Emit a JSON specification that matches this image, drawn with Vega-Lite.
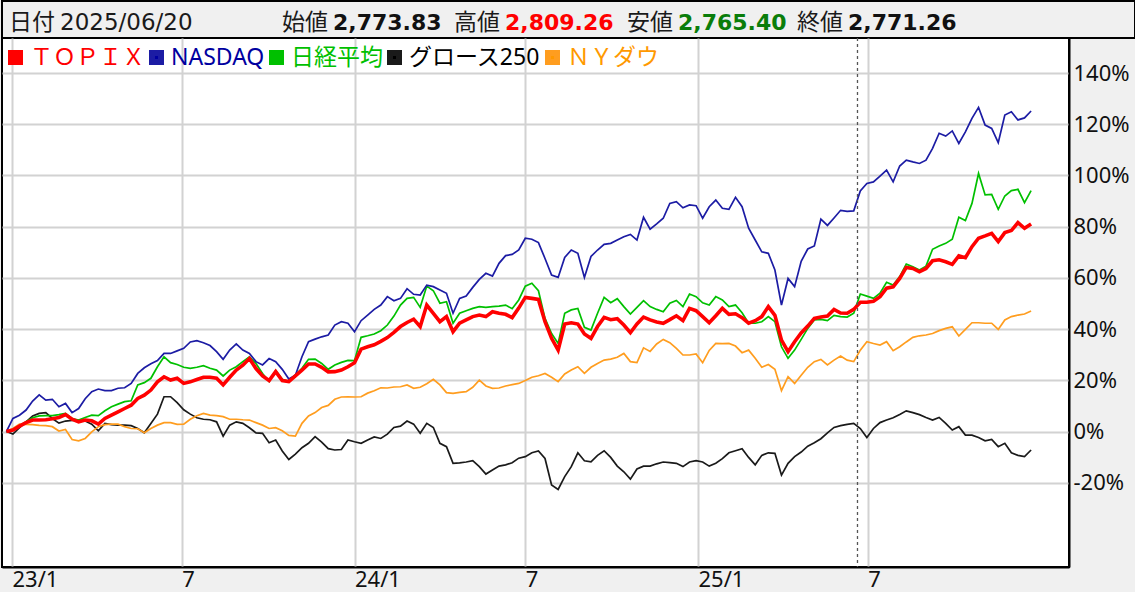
{
"$schema":"https://vega.github.io/schema/vega-lite/v6.json",
"background":"#f0f0f0",
"padding":{"left":-2,"top":0,"right":0,"bottom":0},
"spacing":0,
"bounds":"flush",
"config":{"view":{"stroke":null},"font":"Noto Sans, Noto Sans CJK JP","axis":{"ticks":false,"title":null}},
"datasets":{
"topix":[{"date":"2022-12-26","pct":0},{"date":"2023-01-02","pct":0.6},{"date":"2023-01-09","pct":2.1},{"date":"2023-01-16","pct":3.5},{"date":"2023-01-23","pct":4.5},{"date":"2023-01-30","pct":4.5},{"date":"2023-02-06","pct":4.6},{"date":"2023-02-13","pct":5},{"date":"2023-02-20","pct":5.5},{"date":"2023-02-27","pct":6.6},{"date":"2023-03-06","pct":4.8},{"date":"2023-03-13","pct":3.8},{"date":"2023-03-20","pct":4.5},{"date":"2023-03-27","pct":4.2},{"date":"2023-04-03","pct":2.9},{"date":"2023-04-10","pct":5.1},{"date":"2023-04-17","pct":6.4},{"date":"2023-04-24","pct":7.7},{"date":"2023-05-01","pct":9},{"date":"2023-05-08","pct":10.3},{"date":"2023-05-15","pct":12.9},{"date":"2023-05-22","pct":14.2},{"date":"2023-05-29","pct":16.2},{"date":"2023-06-05","pct":19.4},{"date":"2023-06-12","pct":21.4},{"date":"2023-06-19","pct":20.1},{"date":"2023-06-26","pct":20.8},{"date":"2023-07-03","pct":18.8},{"date":"2023-07-10","pct":19.4},{"date":"2023-07-17","pct":20.3},{"date":"2023-07-24","pct":21.2},{"date":"2023-07-31","pct":21.2},{"date":"2023-08-07","pct":20.8},{"date":"2023-08-14","pct":18.2},{"date":"2023-08-21","pct":21.2},{"date":"2023-08-28","pct":24},{"date":"2023-09-04","pct":25.9},{"date":"2023-09-11","pct":28.5},{"date":"2023-09-18","pct":24.6},{"date":"2023-09-25","pct":21.7},{"date":"2023-10-02","pct":19.9},{"date":"2023-10-09","pct":23.4},{"date":"2023-10-16","pct":19.9},{"date":"2023-10-23","pct":19.5},{"date":"2023-10-30","pct":21.7},{"date":"2023-11-06","pct":24},{"date":"2023-11-13","pct":26.4},{"date":"2023-11-20","pct":26.4},{"date":"2023-11-27","pct":25.1},{"date":"2023-12-04","pct":23.3},{"date":"2023-12-11","pct":23.4},{"date":"2023-12-18","pct":24},{"date":"2023-12-25","pct":25.3},{"date":"2024-01-01","pct":26.9},{"date":"2024-01-08","pct":32.2},{"date":"2024-01-15","pct":33.1},{"date":"2024-01-22","pct":33.9},{"date":"2024-01-29","pct":35.2},{"date":"2024-02-05","pct":36.7},{"date":"2024-02-12","pct":38.7},{"date":"2024-02-19","pct":41},{"date":"2024-02-26","pct":42.6},{"date":"2024-03-04","pct":43.9},{"date":"2024-03-11","pct":41},{"date":"2024-03-18","pct":49.4},{"date":"2024-03-25","pct":46.2},{"date":"2024-04-01","pct":42.9},{"date":"2024-04-08","pct":44.9},{"date":"2024-04-15","pct":39},{"date":"2024-04-22","pct":42.3},{"date":"2024-04-29","pct":43.6},{"date":"2024-05-06","pct":44.9},{"date":"2024-05-13","pct":45.5},{"date":"2024-05-20","pct":44.9},{"date":"2024-05-27","pct":46.8},{"date":"2024-06-03","pct":46.2},{"date":"2024-06-10","pct":45.8},{"date":"2024-06-17","pct":44.5},{"date":"2024-06-24","pct":48.2},{"date":"2024-07-01","pct":52.4},{"date":"2024-07-08","pct":52},{"date":"2024-07-15","pct":51.6},{"date":"2024-07-22","pct":42.9},{"date":"2024-07-29","pct":36.4},{"date":"2024-08-05","pct":31.8},{"date":"2024-08-12","pct":42},{"date":"2024-08-19","pct":42.5},{"date":"2024-08-26","pct":42},{"date":"2024-09-02","pct":38.1},{"date":"2024-09-09","pct":36.4},{"date":"2024-09-16","pct":41},{"date":"2024-09-23","pct":44.6},{"date":"2024-09-30","pct":43.7},{"date":"2024-10-07","pct":44.1},{"date":"2024-10-14","pct":41.6},{"date":"2024-10-21","pct":38.6},{"date":"2024-10-28","pct":42},{"date":"2024-11-04","pct":44.7},{"date":"2024-11-11","pct":43.6},{"date":"2024-11-18","pct":42.8},{"date":"2024-11-25","pct":42.3},{"date":"2024-12-02","pct":43.7},{"date":"2024-12-09","pct":45.2},{"date":"2024-12-16","pct":43.3},{"date":"2024-12-23","pct":48.1},{"date":"2024-12-30","pct":47.2},{"date":"2025-01-06","pct":44.9},{"date":"2025-01-13","pct":42.5},{"date":"2025-01-20","pct":45.2},{"date":"2025-01-27","pct":48.1},{"date":"2025-02-03","pct":45.8},{"date":"2025-02-10","pct":46},{"date":"2025-02-17","pct":44.5},{"date":"2025-02-24","pct":42.3},{"date":"2025-03-03","pct":43.3},{"date":"2025-03-10","pct":44.9},{"date":"2025-03-17","pct":48.8},{"date":"2025-03-24","pct":45.4},{"date":"2025-03-31","pct":35.7},{"date":"2025-04-07","pct":31.2},{"date":"2025-04-14","pct":35.1},{"date":"2025-04-21","pct":38.5},{"date":"2025-04-28","pct":41.2},{"date":"2025-05-05","pct":44.2},{"date":"2025-05-12","pct":44.7},{"date":"2025-05-19","pct":45.1},{"date":"2025-05-26","pct":47.7},{"date":"2025-06-02","pct":46.3},{"date":"2025-06-09","pct":46.2},{"date":"2025-06-16","pct":47.7},{"date":"2025-06-23","pct":50.5},{"date":"2025-06-30","pct":50.5},{"date":"2025-07-07","pct":50.9},{"date":"2025-07-14","pct":52.7},{"date":"2025-07-21","pct":56},{"date":"2025-07-28","pct":56.5},{"date":"2025-08-04","pct":59.8},{"date":"2025-08-11","pct":64.1},{"date":"2025-08-18","pct":63.7},{"date":"2025-08-25","pct":62.4},{"date":"2025-09-01","pct":63.7},{"date":"2025-09-08","pct":66.7},{"date":"2025-09-15","pct":67.1},{"date":"2025-09-22","pct":66.3},{"date":"2025-09-29","pct":65.3},{"date":"2025-10-06","pct":68.6},{"date":"2025-10-13","pct":67.9},{"date":"2025-10-20","pct":72.2},{"date":"2025-10-27","pct":75.5},{"date":"2025-11-03","pct":76.4},{"date":"2025-11-10","pct":77.4},{"date":"2025-11-17","pct":74.2},{"date":"2025-11-24","pct":77.7},{"date":"2025-12-01","pct":78.5},{"date":"2025-12-08","pct":81.6},{"date":"2025-12-15","pct":79.4},{"date":"2025-12-22","pct":81.1}],
"nasdaq":[{"date":"2022-12-26","pct":0},{"date":"2023-01-02","pct":5.1},{"date":"2023-01-09","pct":6.4},{"date":"2023-01-16","pct":8.4},{"date":"2023-01-23","pct":11.9},{"date":"2023-01-30","pct":14.3},{"date":"2023-02-06","pct":12.3},{"date":"2023-02-13","pct":12.6},{"date":"2023-02-20","pct":9.7},{"date":"2023-02-27","pct":11},{"date":"2023-03-06","pct":7.4},{"date":"2023-03-13","pct":9},{"date":"2023-03-20","pct":12.8},{"date":"2023-03-27","pct":15.6},{"date":"2023-04-03","pct":16.6},{"date":"2023-04-10","pct":16},{"date":"2023-04-17","pct":16},{"date":"2023-04-24","pct":16.9},{"date":"2023-05-01","pct":17.1},{"date":"2023-05-08","pct":18.8},{"date":"2023-05-15","pct":22.7},{"date":"2023-05-22","pct":24.9},{"date":"2023-05-29","pct":26.5},{"date":"2023-06-05","pct":27.7},{"date":"2023-06-12","pct":30.5},{"date":"2023-06-19","pct":30.5},{"date":"2023-06-26","pct":31.5},{"date":"2023-07-03","pct":32.5},{"date":"2023-07-10","pct":35},{"date":"2023-07-17","pct":35.5},{"date":"2023-07-24","pct":34.7},{"date":"2023-07-31","pct":33.6},{"date":"2023-08-07","pct":31.2},{"date":"2023-08-14","pct":28.2},{"date":"2023-08-21","pct":31.8},{"date":"2023-08-28","pct":34.2},{"date":"2023-09-04","pct":31.8},{"date":"2023-09-11","pct":30.5},{"date":"2023-09-18","pct":27.3},{"date":"2023-09-25","pct":26},{"date":"2023-10-02","pct":28.5},{"date":"2023-10-09","pct":27.3},{"date":"2023-10-16","pct":24.3},{"date":"2023-10-23","pct":20.5},{"date":"2023-10-30","pct":22},{"date":"2023-11-06","pct":29.2},{"date":"2023-11-13","pct":35.1},{"date":"2023-11-20","pct":36.1},{"date":"2023-11-27","pct":37},{"date":"2023-12-04","pct":37.7},{"date":"2023-12-11","pct":41.6},{"date":"2023-12-18","pct":42.9},{"date":"2023-12-25","pct":42.3},{"date":"2024-01-01","pct":39},{"date":"2024-01-08","pct":43.3},{"date":"2024-01-15","pct":45.5},{"date":"2024-01-22","pct":47.7},{"date":"2024-01-29","pct":49.4},{"date":"2024-02-05","pct":52.7},{"date":"2024-02-12","pct":51.1},{"date":"2024-02-19","pct":52},{"date":"2024-02-26","pct":55.8},{"date":"2024-03-04","pct":53.6},{"date":"2024-03-11","pct":53.3},{"date":"2024-03-18","pct":57.2},{"date":"2024-03-25","pct":56.6},{"date":"2024-04-01","pct":55.3},{"date":"2024-04-08","pct":54},{"date":"2024-04-15","pct":46.2},{"date":"2024-04-22","pct":52},{"date":"2024-04-29","pct":52.9},{"date":"2024-05-06","pct":56.3},{"date":"2024-05-13","pct":59.4},{"date":"2024-05-20","pct":61.8},{"date":"2024-05-27","pct":60.7},{"date":"2024-06-03","pct":65.7},{"date":"2024-06-10","pct":68.7},{"date":"2024-06-17","pct":69.2},{"date":"2024-06-24","pct":70.9},{"date":"2024-07-01","pct":75.5},{"date":"2024-07-08","pct":75.1},{"date":"2024-07-15","pct":73.8},{"date":"2024-07-22","pct":67.6},{"date":"2024-07-29","pct":61.1},{"date":"2024-08-05","pct":60.2},{"date":"2024-08-12","pct":68},{"date":"2024-08-19","pct":70.9},{"date":"2024-08-26","pct":69.6},{"date":"2024-09-02","pct":60.2},{"date":"2024-09-09","pct":68.4},{"date":"2024-09-16","pct":70.9},{"date":"2024-09-23","pct":73.1},{"date":"2024-09-30","pct":73.5},{"date":"2024-10-07","pct":74.8},{"date":"2024-10-14","pct":76.1},{"date":"2024-10-21","pct":77},{"date":"2024-10-28","pct":74.8},{"date":"2024-11-04","pct":83.7},{"date":"2024-11-11","pct":79},{"date":"2024-11-18","pct":81.1},{"date":"2024-11-25","pct":83.3},{"date":"2024-12-02","pct":89.1},{"date":"2024-12-09","pct":89.8},{"date":"2024-12-16","pct":87.4},{"date":"2024-12-23","pct":88.5},{"date":"2024-12-30","pct":88.2},{"date":"2025-01-06","pct":83.3},{"date":"2025-01-13","pct":87.8},{"date":"2025-01-20","pct":90.4},{"date":"2025-01-27","pct":87.2},{"date":"2025-02-03","pct":86.8},{"date":"2025-02-10","pct":91.5},{"date":"2025-02-17","pct":87.8},{"date":"2025-02-24","pct":79.4},{"date":"2025-03-03","pct":74.8},{"date":"2025-03-10","pct":70.2},{"date":"2025-03-17","pct":69.6},{"date":"2025-03-24","pct":63.1},{"date":"2025-03-31","pct":49.4},{"date":"2025-04-07","pct":59.8},{"date":"2025-04-14","pct":56.6},{"date":"2025-04-21","pct":66.5},{"date":"2025-04-28","pct":71.3},{"date":"2025-05-05","pct":72.5},{"date":"2025-05-12","pct":83},{"date":"2025-05-19","pct":80.5},{"date":"2025-05-26","pct":83.4},{"date":"2025-06-02","pct":86.4},{"date":"2025-06-09","pct":86},{"date":"2025-06-16","pct":86.2},{"date":"2025-06-23","pct":94},{"date":"2025-06-30","pct":96.9},{"date":"2025-07-07","pct":97.5},{"date":"2025-07-14","pct":99.8},{"date":"2025-07-21","pct":102.1},{"date":"2025-07-28","pct":97.5},{"date":"2025-08-04","pct":103.7},{"date":"2025-08-11","pct":106},{"date":"2025-08-18","pct":105.3},{"date":"2025-08-25","pct":104.7},{"date":"2025-09-01","pct":106},{"date":"2025-09-08","pct":110.6},{"date":"2025-09-15","pct":116.5},{"date":"2025-09-22","pct":115.4},{"date":"2025-09-29","pct":117.4},{"date":"2025-10-06","pct":112.5},{"date":"2025-10-13","pct":117},{"date":"2025-10-20","pct":122.3},{"date":"2025-10-27","pct":126.6},{"date":"2025-11-03","pct":119.7},{"date":"2025-11-10","pct":118.4},{"date":"2025-11-17","pct":112.8},{"date":"2025-11-24","pct":123.6},{"date":"2025-12-01","pct":124.9},{"date":"2025-12-08","pct":121.7},{"date":"2025-12-15","pct":122.5},{"date":"2025-12-22","pct":125.2}],
"nikkei":[{"date":"2022-12-26","pct":0},{"date":"2023-01-02","pct":0.8},{"date":"2023-01-09","pct":2.3},{"date":"2023-01-16","pct":3.8},{"date":"2023-01-23","pct":5.4},{"date":"2023-01-30","pct":6.1},{"date":"2023-02-06","pct":6.2},{"date":"2023-02-13","pct":6.2},{"date":"2023-02-20","pct":6.6},{"date":"2023-02-27","pct":7.1},{"date":"2023-03-06","pct":5.1},{"date":"2023-03-13","pct":4.5},{"date":"2023-03-20","pct":5.5},{"date":"2023-03-27","pct":6.4},{"date":"2023-04-03","pct":6.2},{"date":"2023-04-10","pct":8.1},{"date":"2023-04-17","pct":9.7},{"date":"2023-04-24","pct":10.7},{"date":"2023-05-01","pct":11.7},{"date":"2023-05-08","pct":12},{"date":"2023-05-15","pct":18.2},{"date":"2023-05-22","pct":19.1},{"date":"2023-05-29","pct":20.8},{"date":"2023-06-05","pct":25.3},{"date":"2023-06-12","pct":29.2},{"date":"2023-06-19","pct":26.9},{"date":"2023-06-26","pct":26.2},{"date":"2023-07-03","pct":25.1},{"date":"2023-07-10","pct":24.7},{"date":"2023-07-17","pct":25.1},{"date":"2023-07-24","pct":25.7},{"date":"2023-07-31","pct":24.7},{"date":"2023-08-07","pct":24},{"date":"2023-08-14","pct":21.7},{"date":"2023-08-21","pct":24},{"date":"2023-08-28","pct":25.3},{"date":"2023-09-04","pct":27.3},{"date":"2023-09-11","pct":29.2},{"date":"2023-09-18","pct":26.6},{"date":"2023-09-25","pct":22.7},{"date":"2023-10-02","pct":19.5},{"date":"2023-10-09","pct":23.8},{"date":"2023-10-16","pct":20.4},{"date":"2023-10-23","pct":19.5},{"date":"2023-10-30","pct":22.1},{"date":"2023-11-06","pct":24.7},{"date":"2023-11-13","pct":28.2},{"date":"2023-11-20","pct":28.3},{"date":"2023-11-27","pct":26.6},{"date":"2023-12-04","pct":24.3},{"date":"2023-12-11","pct":26},{"date":"2023-12-18","pct":27},{"date":"2023-12-25","pct":27.8},{"date":"2024-01-01","pct":27.7},{"date":"2024-01-08","pct":36.8},{"date":"2024-01-15","pct":37.4},{"date":"2024-01-22","pct":38.1},{"date":"2024-01-29","pct":39.4},{"date":"2024-02-05","pct":41.6},{"date":"2024-02-12","pct":45.1},{"date":"2024-02-19","pct":49.4},{"date":"2024-02-26","pct":52},{"date":"2024-03-04","pct":52.4},{"date":"2024-03-11","pct":48.5},{"date":"2024-03-18","pct":56.8},{"date":"2024-03-25","pct":55},{"date":"2024-04-01","pct":50.1},{"date":"2024-04-08","pct":50.7},{"date":"2024-04-15","pct":42.3},{"date":"2024-04-22","pct":46.2},{"date":"2024-04-29","pct":47.2},{"date":"2024-05-06","pct":48.1},{"date":"2024-05-13","pct":48.8},{"date":"2024-05-20","pct":48.5},{"date":"2024-05-27","pct":48.8},{"date":"2024-06-03","pct":49},{"date":"2024-06-10","pct":49.4},{"date":"2024-06-17","pct":48},{"date":"2024-06-24","pct":51.4},{"date":"2024-07-01","pct":56.8},{"date":"2024-07-08","pct":57.9},{"date":"2024-07-15","pct":55},{"date":"2024-07-22","pct":44.2},{"date":"2024-07-29","pct":38.3},{"date":"2024-08-05","pct":34.4},{"date":"2024-08-12","pct":46.2},{"date":"2024-08-19","pct":47.5},{"date":"2024-08-26","pct":48.1},{"date":"2024-09-02","pct":40.7},{"date":"2024-09-09","pct":39.6},{"date":"2024-09-16","pct":46.2},{"date":"2024-09-23","pct":52.4},{"date":"2024-09-30","pct":50.3},{"date":"2024-10-07","pct":51.9},{"date":"2024-10-14","pct":48.8},{"date":"2024-10-21","pct":45.9},{"date":"2024-10-28","pct":48.5},{"date":"2024-11-04","pct":51.1},{"date":"2024-11-11","pct":48.8},{"date":"2024-11-18","pct":47.7},{"date":"2024-11-25","pct":46.8},{"date":"2024-12-02","pct":50.1},{"date":"2024-12-09","pct":51.2},{"date":"2024-12-16","pct":48.8},{"date":"2024-12-23","pct":53.7},{"date":"2024-12-30","pct":52.7},{"date":"2025-01-06","pct":50.3},{"date":"2025-01-13","pct":49.4},{"date":"2025-01-20","pct":52.7},{"date":"2025-01-27","pct":51.4},{"date":"2025-02-03","pct":48.8},{"date":"2025-02-10","pct":49.4},{"date":"2025-02-17","pct":46.4},{"date":"2025-02-24","pct":42.3},{"date":"2025-03-03","pct":42.3},{"date":"2025-03-10","pct":42.9},{"date":"2025-03-17","pct":44.9},{"date":"2025-03-24","pct":42.9},{"date":"2025-03-31","pct":33.1},{"date":"2025-04-07","pct":28.6},{"date":"2025-04-14","pct":31.8},{"date":"2025-04-21","pct":36},{"date":"2025-04-28","pct":40.3},{"date":"2025-05-05","pct":43.6},{"date":"2025-05-12","pct":43.8},{"date":"2025-05-19","pct":43.3},{"date":"2025-05-26","pct":45.4},{"date":"2025-06-02","pct":44.9},{"date":"2025-06-09","pct":44.7},{"date":"2025-06-16","pct":46.2},{"date":"2025-06-23","pct":53.7},{"date":"2025-06-30","pct":52.9},{"date":"2025-07-07","pct":52},{"date":"2025-07-14","pct":54},{"date":"2025-07-21","pct":58.3},{"date":"2025-07-28","pct":57.2},{"date":"2025-08-04","pct":60.5},{"date":"2025-08-11","pct":65.4},{"date":"2025-08-18","pct":64.4},{"date":"2025-08-25","pct":63.1},{"date":"2025-09-01","pct":64.6},{"date":"2025-09-08","pct":71.2},{"date":"2025-09-15","pct":72.5},{"date":"2025-09-22","pct":73.5},{"date":"2025-09-29","pct":75.1},{"date":"2025-10-06","pct":83.7},{"date":"2025-10-13","pct":82.4},{"date":"2025-10-20","pct":89.1},{"date":"2025-10-27","pct":100.8},{"date":"2025-11-03","pct":92.4},{"date":"2025-11-10","pct":92.6},{"date":"2025-11-17","pct":86.8},{"date":"2025-11-24","pct":92},{"date":"2025-12-01","pct":94.1},{"date":"2025-12-08","pct":94.6},{"date":"2025-12-15","pct":89.4},{"date":"2025-12-22","pct":94.1}],
"growth":[{"date":"2022-12-26","pct":0},{"date":"2023-01-02","pct":-1},{"date":"2023-01-09","pct":1.5},{"date":"2023-01-16","pct":3.8},{"date":"2023-01-23","pct":6.1},{"date":"2023-01-30","pct":7.1},{"date":"2023-02-06","pct":7.4},{"date":"2023-02-13","pct":5.1},{"date":"2023-02-20","pct":3.3},{"date":"2023-02-27","pct":4.1},{"date":"2023-03-06","pct":4.4},{"date":"2023-03-13","pct":4.4},{"date":"2023-03-20","pct":4.1},{"date":"2023-03-27","pct":2.9},{"date":"2023-04-03","pct":0.3},{"date":"2023-04-10","pct":3.2},{"date":"2023-04-17","pct":2.7},{"date":"2023-04-24","pct":2.5},{"date":"2023-05-01","pct":2.5},{"date":"2023-05-08","pct":2.3},{"date":"2023-05-15","pct":1.2},{"date":"2023-05-22","pct":-0.5},{"date":"2023-05-29","pct":3.1},{"date":"2023-06-05","pct":6.8},{"date":"2023-06-12","pct":13.6},{"date":"2023-06-19","pct":13.6},{"date":"2023-06-26","pct":11.3},{"date":"2023-07-03","pct":8.5},{"date":"2023-07-10","pct":6.8},{"date":"2023-07-17","pct":5.4},{"date":"2023-07-24","pct":4.8},{"date":"2023-07-31","pct":4.6},{"date":"2023-08-07","pct":3.8},{"date":"2023-08-14","pct":-1.8},{"date":"2023-08-21","pct":2.5},{"date":"2023-08-28","pct":3.8},{"date":"2023-09-04","pct":3.2},{"date":"2023-09-11","pct":1.5},{"date":"2023-09-18","pct":-0.5},{"date":"2023-09-25","pct":-0.7},{"date":"2023-10-02","pct":-4.4},{"date":"2023-10-09","pct":-3.3},{"date":"2023-10-16","pct":-7.6},{"date":"2023-10-23","pct":-10.9},{"date":"2023-10-30","pct":-8.8},{"date":"2023-11-06","pct":-6.3},{"date":"2023-11-13","pct":-4.6},{"date":"2023-11-20","pct":-2},{"date":"2023-11-27","pct":-4.1},{"date":"2023-12-04","pct":-6.7},{"date":"2023-12-11","pct":-7.2},{"date":"2023-12-18","pct":-7},{"date":"2023-12-25","pct":-3.3},{"date":"2024-01-01","pct":-4},{"date":"2024-01-08","pct":-4.6},{"date":"2024-01-15","pct":-3.3},{"date":"2024-01-22","pct":-2.1},{"date":"2024-01-29","pct":-2.7},{"date":"2024-02-05","pct":-1},{"date":"2024-02-12","pct":1.6},{"date":"2024-02-19","pct":2.1},{"date":"2024-02-26","pct":4.1},{"date":"2024-03-04","pct":2.9},{"date":"2024-03-11","pct":-0.7},{"date":"2024-03-18","pct":3.2},{"date":"2024-03-25","pct":1.6},{"date":"2024-04-01","pct":-4.6},{"date":"2024-04-08","pct":-5.9},{"date":"2024-04-15","pct":-12.4},{"date":"2024-04-22","pct":-12.2},{"date":"2024-04-29","pct":-11.9},{"date":"2024-05-06","pct":-11.4},{"date":"2024-05-13","pct":-13.7},{"date":"2024-05-20","pct":-16.6},{"date":"2024-05-27","pct":-15},{"date":"2024-06-03","pct":-13.5},{"date":"2024-06-10","pct":-13},{"date":"2024-06-17","pct":-12.2},{"date":"2024-06-24","pct":-10.4},{"date":"2024-07-01","pct":-9.8},{"date":"2024-07-08","pct":-8.3},{"date":"2024-07-15","pct":-7.6},{"date":"2024-07-22","pct":-10.5},{"date":"2024-07-29","pct":-20.9},{"date":"2024-08-05","pct":-22.6},{"date":"2024-08-12","pct":-17.6},{"date":"2024-08-19","pct":-13.7},{"date":"2024-08-26","pct":-8.3},{"date":"2024-09-02","pct":-11.4},{"date":"2024-09-09","pct":-11.8},{"date":"2024-09-16","pct":-9.3},{"date":"2024-09-23","pct":-7.5},{"date":"2024-09-30","pct":-10.1},{"date":"2024-10-07","pct":-13.5},{"date":"2024-10-14","pct":-15.7},{"date":"2024-10-21","pct":-18.6},{"date":"2024-10-28","pct":-14.6},{"date":"2024-11-04","pct":-13.5},{"date":"2024-11-11","pct":-13.5},{"date":"2024-11-18","pct":-12.6},{"date":"2024-11-25","pct":-11.9},{"date":"2024-12-02","pct":-12.1},{"date":"2024-12-09","pct":-12.4},{"date":"2024-12-16","pct":-13.7},{"date":"2024-12-23","pct":-11.9},{"date":"2024-12-30","pct":-11.4},{"date":"2025-01-06","pct":-11.9},{"date":"2025-01-13","pct":-13.5},{"date":"2025-01-20","pct":-12.4},{"date":"2025-01-27","pct":-10.6},{"date":"2025-02-03","pct":-8.3},{"date":"2025-02-10","pct":-7.5},{"date":"2025-02-17","pct":-6.7},{"date":"2025-02-24","pct":-10.1},{"date":"2025-03-03","pct":-13},{"date":"2025-03-10","pct":-9.3},{"date":"2025-03-17","pct":-8.3},{"date":"2025-03-24","pct":-8.5},{"date":"2025-03-31","pct":-17},{"date":"2025-04-07","pct":-12.4},{"date":"2025-04-14","pct":-9.8},{"date":"2025-04-21","pct":-8},{"date":"2025-04-28","pct":-5.7},{"date":"2025-05-05","pct":-4.4},{"date":"2025-05-12","pct":-2.8},{"date":"2025-05-19","pct":-0.5},{"date":"2025-05-26","pct":1.6},{"date":"2025-06-02","pct":2.3},{"date":"2025-06-09","pct":2.8},{"date":"2025-06-16","pct":3.2},{"date":"2025-06-23","pct":1.2},{"date":"2025-06-30","pct":-2.3},{"date":"2025-07-07","pct":1.2},{"date":"2025-07-14","pct":3.5},{"date":"2025-07-21","pct":4.5},{"date":"2025-07-28","pct":5.4},{"date":"2025-08-04","pct":6.7},{"date":"2025-08-11","pct":8.1},{"date":"2025-08-18","pct":7.4},{"date":"2025-08-25","pct":6.6},{"date":"2025-09-01","pct":5.5},{"date":"2025-09-08","pct":4.5},{"date":"2025-09-15","pct":5.5},{"date":"2025-09-22","pct":3.2},{"date":"2025-09-29","pct":0.6},{"date":"2025-10-06","pct":1.9},{"date":"2025-10-13","pct":-1.4},{"date":"2025-10-20","pct":-1.4},{"date":"2025-10-27","pct":-2.3},{"date":"2025-11-03","pct":-3.6},{"date":"2025-11-10","pct":-3.1},{"date":"2025-11-17","pct":-5.9},{"date":"2025-11-24","pct":-4.6},{"date":"2025-12-01","pct":-8.3},{"date":"2025-12-08","pct":-9.3},{"date":"2025-12-15","pct":-9.8},{"date":"2025-12-22","pct":-7.2}],
"dow":[{"date":"2022-12-26","pct":0},{"date":"2023-01-02","pct":1.2},{"date":"2023-01-09","pct":2.9},{"date":"2023-01-16","pct":2.8},{"date":"2023-01-23","pct":2.7},{"date":"2023-01-30","pct":2.4},{"date":"2023-02-06","pct":2.3},{"date":"2023-02-13","pct":1.9},{"date":"2023-02-20","pct":0.2},{"date":"2023-02-27","pct":0.8},{"date":"2023-03-06","pct":-3.1},{"date":"2023-03-13","pct":-3.6},{"date":"2023-03-20","pct":-2.7},{"date":"2023-03-27","pct":-0.1},{"date":"2023-04-03","pct":1.9},{"date":"2023-04-10","pct":2.7},{"date":"2023-04-17","pct":2.9},{"date":"2023-04-24","pct":2.9},{"date":"2023-05-01","pct":1.9},{"date":"2023-05-08","pct":1.2},{"date":"2023-05-15","pct":1.1},{"date":"2023-05-22","pct":-0.5},{"date":"2023-05-29","pct":1.2},{"date":"2023-06-05","pct":2.5},{"date":"2023-06-12","pct":3.5},{"date":"2023-06-19","pct":3.5},{"date":"2023-06-26","pct":2.8},{"date":"2023-07-03","pct":2.9},{"date":"2023-07-10","pct":4.8},{"date":"2023-07-17","pct":6.2},{"date":"2023-07-24","pct":7.1},{"date":"2023-07-31","pct":6.4},{"date":"2023-08-07","pct":6.2},{"date":"2023-08-14","pct":5.8},{"date":"2023-08-21","pct":4.8},{"date":"2023-08-28","pct":4.8},{"date":"2023-09-04","pct":4.6},{"date":"2023-09-11","pct":4.5},{"date":"2023-09-18","pct":3.5},{"date":"2023-09-25","pct":2.5},{"date":"2023-10-02","pct":1.2},{"date":"2023-10-09","pct":1.5},{"date":"2023-10-16","pct":0.3},{"date":"2023-10-23","pct":-1.5},{"date":"2023-10-30","pct":-1.8},{"date":"2023-11-06","pct":3.2},{"date":"2023-11-13","pct":6.1},{"date":"2023-11-20","pct":7.4},{"date":"2023-11-27","pct":9.4},{"date":"2023-12-04","pct":10.2},{"date":"2023-12-11","pct":12.6},{"date":"2023-12-18","pct":13.5},{"date":"2023-12-25","pct":13.6},{"date":"2024-01-01","pct":13.5},{"date":"2024-01-08","pct":13.6},{"date":"2024-01-15","pct":15},{"date":"2024-01-22","pct":15.9},{"date":"2024-01-29","pct":17.1},{"date":"2024-02-05","pct":17},{"date":"2024-02-12","pct":17.4},{"date":"2024-02-19","pct":17.5},{"date":"2024-02-26","pct":18.2},{"date":"2024-03-04","pct":16.9},{"date":"2024-03-11","pct":17.3},{"date":"2024-03-18","pct":18.7},{"date":"2024-03-25","pct":20.4},{"date":"2024-04-01","pct":18.2},{"date":"2024-04-08","pct":15.2},{"date":"2024-04-15","pct":14.9},{"date":"2024-04-22","pct":15.3},{"date":"2024-04-29","pct":15.6},{"date":"2024-05-06","pct":17.3},{"date":"2024-05-13","pct":20.1},{"date":"2024-05-20","pct":17.8},{"date":"2024-05-27","pct":16.9},{"date":"2024-06-03","pct":17},{"date":"2024-06-10","pct":17.8},{"date":"2024-06-17","pct":18.3},{"date":"2024-06-24","pct":18.8},{"date":"2024-07-01","pct":19.9},{"date":"2024-07-08","pct":21.2},{"date":"2024-07-15","pct":21.8},{"date":"2024-07-22","pct":22.7},{"date":"2024-07-29","pct":21.2},{"date":"2024-08-05","pct":19.5},{"date":"2024-08-12","pct":22.5},{"date":"2024-08-19","pct":24},{"date":"2024-08-26","pct":25.3},{"date":"2024-09-02","pct":22.7},{"date":"2024-09-09","pct":25.1},{"date":"2024-09-16","pct":26.6},{"date":"2024-09-23","pct":27.9},{"date":"2024-09-30","pct":28.3},{"date":"2024-10-07","pct":29},{"date":"2024-10-14","pct":30.5},{"date":"2024-10-21","pct":27.3},{"date":"2024-10-28","pct":26.9},{"date":"2024-11-04","pct":32.7},{"date":"2024-11-11","pct":31.3},{"date":"2024-11-18","pct":34.2},{"date":"2024-11-25","pct":36},{"date":"2024-12-02","pct":34.7},{"date":"2024-12-09","pct":32.5},{"date":"2024-12-16","pct":29.9},{"date":"2024-12-23","pct":29.9},{"date":"2024-12-30","pct":30.3},{"date":"2025-01-06","pct":26.9},{"date":"2025-01-13","pct":31.7},{"date":"2025-01-20","pct":34.4},{"date":"2025-01-27","pct":34.3},{"date":"2025-02-03","pct":34.4},{"date":"2025-02-10","pct":33.4},{"date":"2025-02-17","pct":30.8},{"date":"2025-02-24","pct":31.8},{"date":"2025-03-03","pct":28.6},{"date":"2025-03-10","pct":25.1},{"date":"2025-03-17","pct":26.2},{"date":"2025-03-24","pct":24.3},{"date":"2025-03-31","pct":16},{"date":"2025-04-07","pct":21.4},{"date":"2025-04-14","pct":18.8},{"date":"2025-04-21","pct":22},{"date":"2025-04-28","pct":25.1},{"date":"2025-05-05","pct":27.3},{"date":"2025-05-12","pct":28.2},{"date":"2025-05-19","pct":26},{"date":"2025-05-26","pct":27.9},{"date":"2025-06-02","pct":29.5},{"date":"2025-06-09","pct":27.9},{"date":"2025-06-16","pct":27.3},{"date":"2025-06-23","pct":31.8},{"date":"2025-06-30","pct":35.1},{"date":"2025-07-07","pct":34.4},{"date":"2025-07-14","pct":33.8},{"date":"2025-07-21","pct":35.1},{"date":"2025-07-28","pct":31.6},{"date":"2025-08-04","pct":33.1},{"date":"2025-08-11","pct":35},{"date":"2025-08-18","pct":36.8},{"date":"2025-08-25","pct":37.4},{"date":"2025-09-01","pct":37.7},{"date":"2025-09-08","pct":38.3},{"date":"2025-09-15","pct":39.4},{"date":"2025-09-22","pct":40.3},{"date":"2025-09-29","pct":40.9},{"date":"2025-10-06","pct":37.3},{"date":"2025-10-13","pct":39.9},{"date":"2025-10-20","pct":42.5},{"date":"2025-10-27","pct":42.5},{"date":"2025-11-03","pct":42.3},{"date":"2025-11-10","pct":42.3},{"date":"2025-11-17","pct":39.9},{"date":"2025-11-24","pct":43.6},{"date":"2025-12-01","pct":44.9},{"date":"2025-12-08","pct":45.5},{"date":"2025-12-15","pct":45.9},{"date":"2025-12-22","pct":47.1}]
},
"vconcat":[
{
"width":1133,"height":37,
"view":{"fill":"#f0f0f0","stroke":"#000000","strokeWidth":2},
"data":{"values":[{"order":0,"item":"日付","value":"2025/06/20"},{"order":1,"item":"始値","value":"2,773.83"},{"order":2,"item":"高値","value":"2,809.26"},{"order":3,"item":"安値","value":"2,765.40"},{"order":4,"item":"終値","value":"2,771.26"}]},
"encoding":{"x":{"field":"order","type":"quantitative","scale":{"domain":[0,1,2,3,4],"range":[7,280,452,625,795]},"axis":null}},
"layer":[
{"mark":{"type":"text","align":"left","baseline":"alphabetic","dy":10,"font":"DejaVu Sans, Noto Sans CJK JP","fontSize":23,"color":"#1a1a1a"},"encoding":{"text":{"field":"item"}}},
{"transform":[{"filter":"datum.order == 0"}],"mark":{"type":"text","align":"left","baseline":"alphabetic","dx":51,"dy":10,"font":"DejaVu Sans, Noto Sans CJK JP","fontSize":23,"color":"#1a1a1a"},"encoding":{"text":{"field":"value"}}},
{"transform":[{"filter":"datum.order == 1 || datum.order == 4"}],"mark":{"type":"text","align":"left","baseline":"alphabetic","dx":51,"dy":10,"font":"DejaVu Sans","fontSize":22,"fontWeight":"bold","color":"#111111"},"encoding":{"text":{"field":"value"}}},
{"transform":[{"filter":"datum.order == 2"}],"mark":{"type":"text","align":"left","baseline":"alphabetic","dx":51,"dy":10,"font":"DejaVu Sans","fontSize":22,"fontWeight":"bold","color":"#ff0000"},"encoding":{"text":{"field":"value"}}},
{"transform":[{"filter":"datum.order == 3"}],"mark":{"type":"text","align":"left","baseline":"alphabetic","dx":51,"dy":10,"font":"DejaVu Sans","fontSize":22,"fontWeight":"bold","color":"#0a7d0a"},"encoding":{"text":{"field":"value"}}}
]
},
{
"width":1067,"height":529,
"view":{"fill":"#ffffff","stroke":"#000000","strokeWidth":2},
"layer":[
{"data":{"name":"growth"},"mark":{"type":"line","strokeWidth":1.7},
"encoding":{
"x":{"field":"date","type":"temporal","scale":{"type":"utc","domain":[{"year":2022,"month":12,"date":21,"hours":8,"minutes":15,"utc":true},{"year":2026,"month":1,"date":31,"hours":9,"minutes":36,"utc":true}]},
"axis":{"orient":"bottom","values":[{"year":2023,"month":1,"date":1,"utc":true},{"year":2023,"month":7,"date":1,"utc":true},{"year":2024,"month":1,"date":1,"utc":true},{"year":2024,"month":7,"date":1,"utc":true},{"year":2025,"month":1,"date":1,"utc":true},{"year":2025,"month":7,"date":1,"utc":true}],"labelExpr":"utcmonth(datum.value) == 0 ? utcFormat(datum.value, '%y') + '/1' : '7'","labelAlign":"left","labelBaseline":"top","labelDx":2,"labelPadding":2,"labelFontSize":22,"labelFont":"Noto Sans","labelColor":"#111111","labelOverlap":false,"labelFlush":false,"labelBound":false,"grid":true,"gridColor":"#d2d2d2","gridWidth":2,"domainColor":"#000000","domainWidth":2,"minExtent":25,"maxExtent":25}},
"y":{"field":"pct","type":"quantitative","scale":{"domain":[-52.9,153.7],"nice":false,"zero":false},
"axis":{"orient":"right","values":[-20,0,20,40,60,80,100,120,140],"labelExpr":"datum.value + '%'","labelAlign":"left","labelBaseline":"middle","labelPadding":4,"labelFontSize":22,"labelFont":"Noto Sans","labelColor":"#111111","grid":true,"gridColor":"#d2d2d2","gridWidth":2,"domainColor":"#000000","domainWidth":2,"minExtent":67,"maxExtent":67}},
"color":{"datum":"グロース250","type":"nominal","scale":{"domain":["ＴＯＰＩＸ","NASDAQ","日経平均","グロース250","ＮＹダウ"],"range":["#ff0000","#1c1ca4","#00c000","#1a1a1a","#ff9d1f"]},
"legend":{"orient":"none","legendX":2,"legendY":45,"direction":"horizontal","title":null,"symbolType":"square","symbolSize":81,"symbolStrokeWidth":6,"symbolOpacity":1,"symbolFillColor":{"expr":"['#ff0000','#0000a0','#00c000','#000000','#ff9900'][indexof(['ＴＯＰＩＸ','NASDAQ','日経平均','グロース250','ＮＹダウ'], datum.value)]"},"symbolStrokeColor":{"expr":"['#ff0000','#0000a0','#00c000','#000000','#ff9900'][indexof(['ＴＯＰＩＸ','NASDAQ','日経平均','グロース250','ＮＹダウ'], datum.value)]"},"labelFont":"Noto Sans, Noto Sans CJK JP","labelFontSize":23,"labelColor":{"expr":"['#ff0000','#0000a0','#00c000','#000000','#ff9900'][indexof(['ＴＯＰＩＸ','NASDAQ','日経平均','グロース250','ＮＹダウ'], datum.value)]"},"labelLimit":400,"labelOffset":3,"columnPadding":-6,"padding":0}}
}},
{"data":{"name":"dow"},"mark":{"type":"line","strokeWidth":1.7},"encoding":{"x":{"field":"date","type":"temporal"},"y":{"field":"pct","type":"quantitative"},"color":{"datum":"ＮＹダウ","type":"nominal"}}},
{"data":{"name":"nikkei"},"mark":{"type":"line","strokeWidth":1.7},"encoding":{"x":{"field":"date","type":"temporal"},"y":{"field":"pct","type":"quantitative"},"color":{"datum":"日経平均","type":"nominal"}}},
{"data":{"name":"nasdaq"},"mark":{"type":"line","strokeWidth":1.7},"encoding":{"x":{"field":"date","type":"temporal"},"y":{"field":"pct","type":"quantitative"},"color":{"datum":"NASDAQ","type":"nominal"}}},
{"data":{"name":"topix"},"mark":{"type":"line","strokeWidth":3.6},"encoding":{"x":{"field":"date","type":"temporal"},"y":{"field":"pct","type":"quantitative"},"color":{"datum":"ＴＯＰＩＸ","type":"nominal"}}},
{"data":{"values":[{"cursor":"2025-06-20"}]},"mark":{"type":"rule","strokeDash":[3,3],"color":"#555555","strokeWidth":1.3},"encoding":{"x":{"field":"cursor","type":"temporal"}}}
]
}
]
}
